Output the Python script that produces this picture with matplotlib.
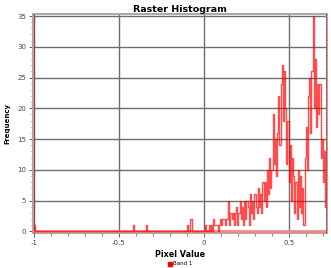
import numpy as np
import matplotlib
matplotlib.use('Agg')
import matplotlib.pyplot as plt
from matplotlib.lines import Line2D

# histogram bins: 256 bins from -1 to ~0.72
bin_min = -1.0
bin_width = 0.00672
n_bins = 256

# isolated counts in the negative range (pixel value, count)
neg_values = [-1.0, -0.415, -0.34, -0.096, -0.079]
neg_counts = [1, 1, 1, 1, 2]

# counts for the bins from 0 up to the maximum value
pos_counts = [
    0, 1, 0, 0, 1, 0, 1, 0, 2, 1,
    1, 1, 0, 1, 2, 1, 2, 2, 1, 2,
    2, 5, 1, 3, 2, 3, 1, 3, 4, 1,
    3, 5, 2, 4, 1, 5,
    2, 5, 4, 1, 6, 3, 5, 2, 6, 4, 3, 7, 4, 6, 3, 8, 5,
    8, 4, 10, 6, 12, 7, 10, 19,
    11, 15, 9, 16,
    22, 14, 24,
    27, 18, 26,
    20, 11, 18,
    8, 14, 5, 12,
    9, 3, 8, 2,
    10, 4, 9, 3, 7,
    1,
    12, 17, 10,
    22, 25, 16, 26,
    35,
    20, 28, 17, 24,
    19, 24, 12,
    15, 8, 13,
    4,
]
data_max = 0.718

x_ticks = [-1, -0.5, 0, 0.5]
x_ticklabels = ['-1', '-0.5', '0', '0.5']
y_ticks = [0, 5, 10, 15, 20, 25, 30, 35]

# full histogram array (empty bins are zero)
counts = np.zeros(n_bins)
for v, c in zip(neg_values, neg_counts):
    counts[int((v - bin_min) / bin_width)] = c
first_pos_bin = int(np.ceil((0 - bin_min) / bin_width))
counts[first_pos_bin:first_pos_bin + len(pos_counts)] = pos_counts
centers = bin_min + (np.arange(n_bins) + 0.5) * bin_width
keep = centers <= data_max + bin_width
centers, counts = centers[keep], counts[keep]

fig = plt.figure(figsize=(3.31, 2.68), dpi=100)
ax = fig.add_axes([0.0997, 0.131, 0.889, 0.815])

# zero line of the histogram
ax.plot([bin_min, data_max], [0, 0], color='#ff8080', lw=1.8, zorder=3)

ax.plot(centers, counts, color='#ff0000', lw=1.0, alpha=0.7, zorder=4,
        drawstyle='steps-mid')

# min / max markers
ax.axvline(bin_min, color='#ff0000', lw=0.6, ls=(0, (2, 1)), zorder=5)
ax.axvline(data_max, color='#ff0000', lw=0.6, ls=(0, (2, 1)), zorder=5)

ax.set_xlim(-1.006, 0.726)
ax.set_ylim(-0.25, 35.25)
ax.set_xticks(x_ticks)
ax.set_xticklabels(x_ticklabels)
ax.set_yticks(y_ticks)
ax.set_xticks(np.arange(-1, 0.75, 0.1), minor=True)
ax.set_yticks(np.arange(0, 36, 1), minor=True)
ax.grid(True, which='major', color='#6e6e6e', lw=1.0, zorder=1)
ax.tick_params(which='major', labelsize=5, colors='#444444', length=3, width=0.6, pad=2)
ax.tick_params(which='minor', length=1.8, width=0.5, colors='#555555')
for s in ax.spines.values():
    s.set_color('#a8a8a8')
    s.set_linewidth(1.4)

ax.set_title('Raster Histogram', fontsize=6.8, fontweight='bold', pad=2)
ax.set_xlabel('Pixel Value', fontsize=5.8, fontweight='bold', labelpad=3)
ax.set_ylabel('Frequency', fontsize=5, fontweight='bold', labelpad=5)

handle = Line2D([], [], marker='s', color='none', markerfacecolor='#ff0000',
                markeredgecolor='#ff0000', markersize=3.5)
fig.legend([handle], ['Band 1'], loc='center', bbox_to_anchor=(0.545, 0.015),
           frameon=False, fontsize=4, handletextpad=0.2, handlelength=0.8)

fig.savefig('out.png', dpi=100)
